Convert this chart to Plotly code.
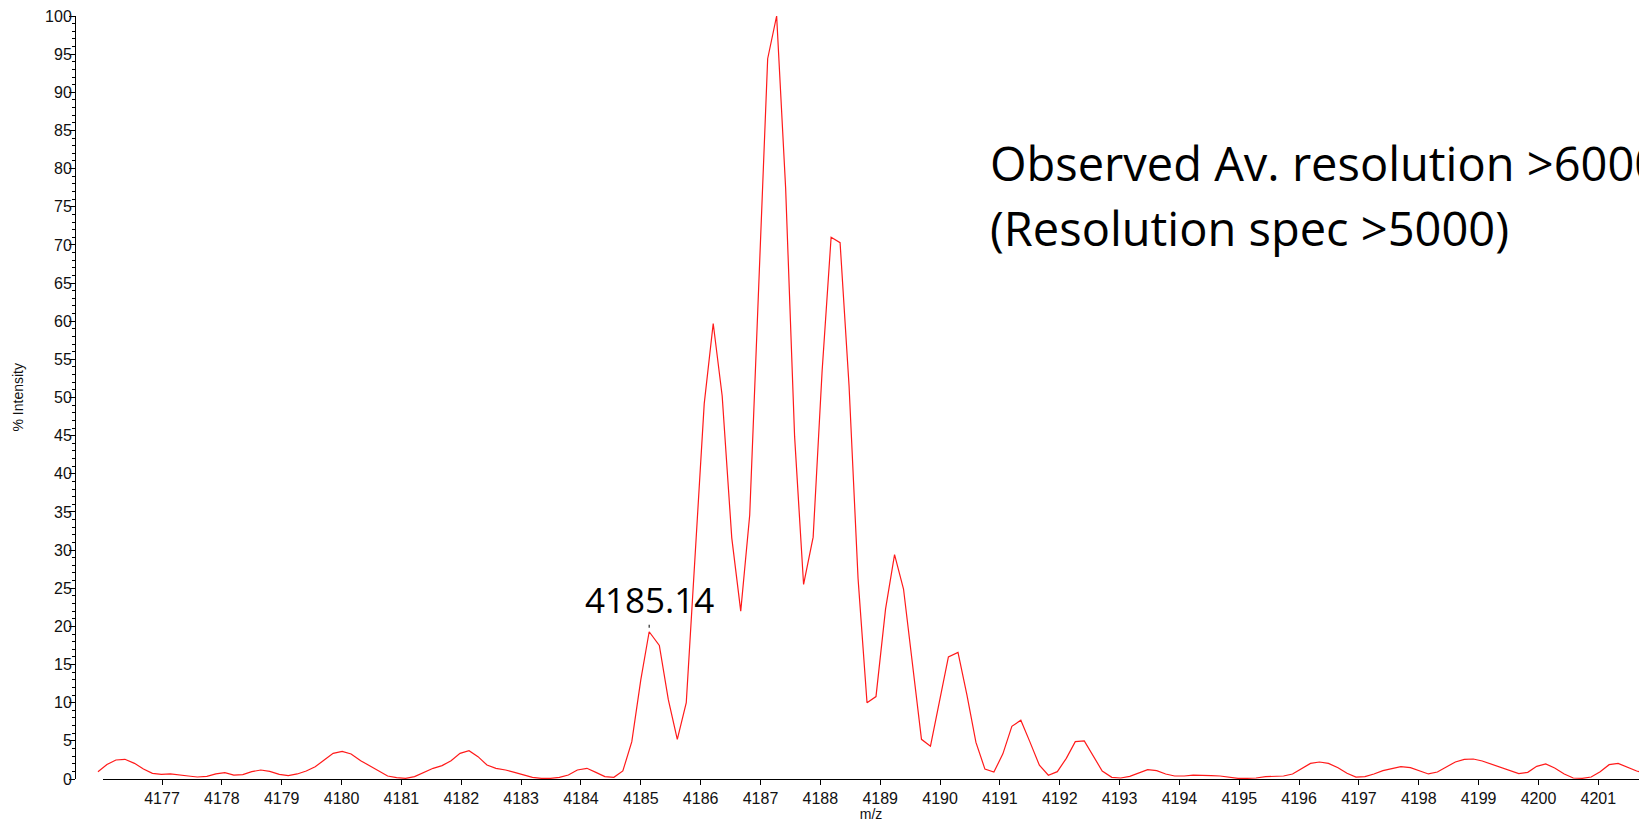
import plotly.graph_objects as go

# Centroid of the labelled isotope peak
LABELLED_MZ = 4185.14

# m/z sampling points of the averaged spectrum
mz = [
    4175.93, 4176.08, 4176.23, 4176.38, 4176.54, 4176.69, 4176.84, 4176.99, 4177.14, 4177.29,
    4177.44, 4177.59, 4177.75, 4177.90, 4178.05, 4178.20, 4178.35, 4178.50, 4178.65, 4178.80,
    4178.96, 4179.11, 4179.26, 4179.41, 4179.56, 4179.71, 4179.86, 4180.01, 4180.16, 4180.32,
    4180.47, 4180.62, 4180.77, 4180.92, 4181.07, 4181.22, 4181.37, 4181.53, 4181.68, 4181.83,
    4181.98, 4182.13, 4182.28, 4182.43, 4182.58, 4182.74, 4182.89, 4183.04, 4183.19, 4183.34,
    4183.49, 4183.64, 4183.79, 4183.94, 4184.10, 4184.25, 4184.40, 4184.55, 4184.70, 4184.85,
    4185.00, LABELLED_MZ, 4185.31, 4185.46, 4185.61, 4185.76, 4185.91, 4186.06, 4186.21, 4186.36,
    4186.52, 4186.67, 4186.82, 4186.97, 4187.12, 4187.27, 4187.42, 4187.57, 4187.72, 4187.88,
    4188.03, 4188.18, 4188.33, 4188.48, 4188.63, 4188.78, 4188.93, 4189.09, 4189.24, 4189.39,
    4189.54, 4189.69, 4189.84, 4189.99, 4190.14, 4190.30, 4190.45, 4190.60, 4190.75, 4190.90,
    4191.05, 4191.20, 4191.35, 4191.50, 4191.66, 4191.81, 4191.96, 4192.11, 4192.26, 4192.41,
    4192.56, 4192.71, 4192.87, 4193.02, 4193.17, 4193.32, 4193.47, 4193.62, 4193.77, 4193.92,
    4194.08, 4194.23, 4194.38, 4194.53, 4194.68, 4194.83, 4194.98, 4195.13, 4195.28, 4195.44,
    4195.59, 4195.74, 4195.89, 4196.04, 4196.19, 4196.34, 4196.49, 4196.65, 4196.80, 4196.95,
    4197.10, 4197.25, 4197.40, 4197.55, 4197.70, 4197.86, 4198.01, 4198.16, 4198.31, 4198.46,
    4198.61, 4198.76, 4198.91, 4199.06, 4199.22, 4199.37, 4199.52, 4199.67, 4199.82, 4199.97,
    4200.12, 4200.27, 4200.43, 4200.58, 4200.73, 4200.88, 4201.03, 4201.18, 4201.33, 4201.48,
    4201.64, 4201.79,
]

# Relative intensity (%) at each m/z point
intensity = [
    0.96, 1.90, 2.49, 2.58, 2.05, 1.31, 0.74, 0.61, 0.66, 0.48,
    0.39, 0.26, 0.35, 0.66, 0.83, 0.52, 0.57, 0.96, 1.18, 0.99,
    0.61, 0.44, 0.66, 1.05, 1.60, 2.49, 3.36, 3.63, 3.28, 2.40,
    1.70, 1.00, 0.39, 0.17, 0.09, 0.31, 0.83, 1.40, 1.75, 2.40,
    3.36, 3.71, 2.93, 1.83, 1.40, 1.18, 0.87, 0.52, 0.22, 0.09,
    0.09, 0.22, 0.52, 1.18, 1.40, 0.87, 0.31, 0.22, 1.05, 4.89,
    13.0, 19.3, 17.5, 10.4, 5.2, 10.0, 29.5, 49.2, 59.7, 50.2,
    31.6, 22.0, 34.6, 64.5, 94.4, 100.0, 77.5, 44.9, 25.5, 31.7,
    53.5, 71.0, 70.3, 51.5, 26.3, 10.0, 10.8, 22.3, 29.4, 24.9,
    14.7, 5.2, 4.3, 10.1, 16.0, 16.6, 11.0, 4.8, 1.3, 0.9,
    3.3, 6.9, 7.7, 4.9, 1.8, 0.5, 0.96, 2.71, 4.89, 4.98,
    2.93, 1.05, 0.22, 0.13, 0.35, 0.83, 1.22, 1.09, 0.66, 0.39,
    0.39, 0.52, 0.44, 0.44, 0.39, 0.22, 0.09, 0.09, 0.13, 0.31,
    0.35, 0.39, 0.66, 1.40, 2.05, 2.23, 2.05, 1.48, 0.75, 0.26,
    0.31, 0.66, 1.09, 1.35, 1.62, 1.48, 1.09, 0.66, 0.92, 1.62,
    2.23, 2.58, 2.62, 2.36, 1.92, 1.57, 1.18, 0.70, 0.87, 1.66,
    1.97, 1.44, 0.66, 0.13, 0.09, 0.26, 0.96, 1.88, 2.05, 1.53,
    1.05, 0.70,
]

# full data window (from the y axis) and the window covered by the drawn m/z axis
DATA_X_RANGE = [4175.563, 4201.679]
AXIS_X_RANGE = [4176.014, 4201.679]
Y_RANGE = [0, 100]
NOTE_LINES = ["Observed Av. resolution >6000", "(Resolution spec >5000)"]

W, H = 1639, 822
M_L, M_R, M_T, M_B = 76, 0, 16, 43
PLOT_W = W - M_L - M_R
PLOT_H = H - M_T - M_B
AXIS_GAP = 27  # px between the intensity axis and the start of the m/z axis line

peak_idx = mz.index(LABELLED_MZ)

fig = go.Figure()
fig.add_trace(go.Scatter(
    x=mz, y=intensity, mode="lines",
    line=dict(color="#ff1a1a", width=1.2),
    hoverinfo="skip", showlegend=False,
))
# the visible m/z axis lives on its own x axis
fig.add_trace(go.Scatter(x=[], y=[], xaxis="x2", yaxis="y", showlegend=False, hoverinfo="skip"))

tick_font = dict(family="Liberation Sans, Arial, sans-serif", size=16, color="#111")

fig.update_layout(
    width=W, height=H,
    margin=dict(l=M_L, r=M_R, t=M_T, b=M_B, pad=0),
    paper_bgcolor="white", plot_bgcolor="rgba(0,0,0,0)",
    xaxis=dict(
        domain=[0, 1], range=DATA_X_RANGE,
        showline=False, showticklabels=False, ticks="",
        showgrid=False, zeroline=False,
    ),
    xaxis2=dict(
        domain=[AXIS_GAP / PLOT_W, 1], range=AXIS_X_RANGE, anchor="y",
        showline=True, linecolor="black", linewidth=1,
        ticks="outside", ticklen=5, tickcolor="black", tickwidth=1,
        tick0=4177, dtick=1, tickformat="d",
        showgrid=False, zeroline=False, tickfont=tick_font,
        title=dict(text="m/z", font=dict(family="Liberation Sans, Arial", size=14, color="#111"), standoff=4),
    ),
    yaxis=dict(
        anchor="x", range=Y_RANGE,
        showline=True, linecolor="black", linewidth=1,
        ticks="outside", ticklen=6, tickcolor="black", tickwidth=1,
        tick0=0, dtick=5, ticklabelstandoff=-6,
        minor=dict(dtick=1, ticks="outside", ticklen=3, tickcolor="black", tickwidth=1),
        showgrid=False, zeroline=False, tickfont=tick_font,
    ),
)

# y-axis title
fig.add_annotation(
    text="% Intensity", textangle=-90,
    xref="paper", yref="paper", x=(17 - M_L) / PLOT_W, y=0.5,
    xanchor="center", yanchor="middle", showarrow=False,
    font=dict(family="Liberation Sans, Arial", size=14, color="#111"),
)

# peak label with a short marker tick above the peak
fig.add_annotation(
    x=mz[peak_idx], y=intensity[peak_idx], text=f"{LABELLED_MZ:.2f}",
    showarrow=True, arrowhead=0, arrowwidth=1, arrowcolor="black",
    ax=0, ay=-7, standoff=4, yanchor="bottom",
    font=dict(family="Open Sans", size=35, color="black"),
)

# resolution note, one annotation per line
for i, line in enumerate(NOTE_LINES):
    top_px = 129 + 65 * i
    fig.add_annotation(
        text=line,
        xref="paper", yref="paper",
        x=(988 - M_L) / PLOT_W, y=(H - M_B - top_px) / PLOT_H,
        xanchor="left", yanchor="top", align="left", showarrow=False,
        font=dict(family="Open Sans", size=47, color="black"),
    )

fig.write_html("out.html")
